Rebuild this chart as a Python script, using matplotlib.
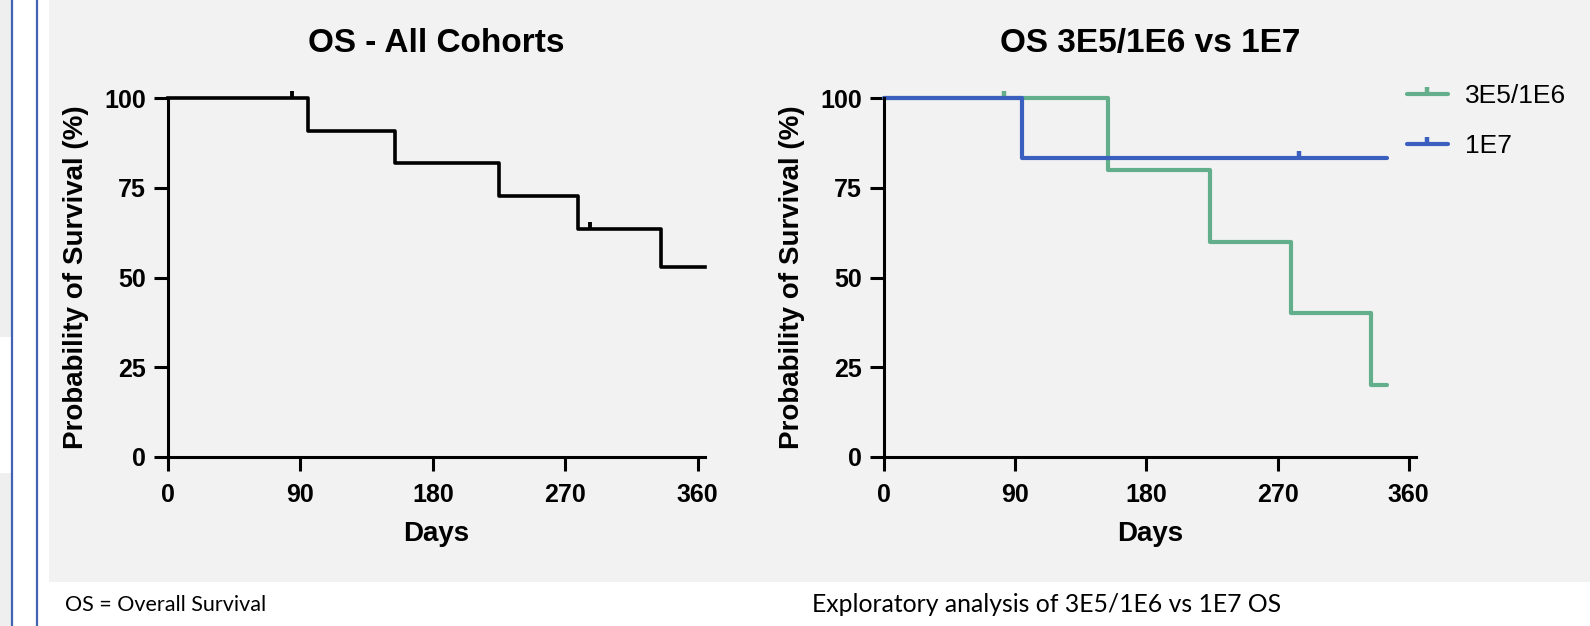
import matplotlib
matplotlib.use("Agg")
import matplotlib.pyplot as plt
from matplotlib.lines import Line2D
from matplotlib.patches import Rectangle

# ---- data ----
days_ticks = [0, 90, 180, 270, 360]
surv_ticks = [0, 25, 50, 75, 100]

# all cohorts: step times (days) and survival (%) after each step
all_t = [0, 95, 154, 225, 279, 335, 365]
all_s = [100, 90.9, 81.8, 72.7, 63.6, 53.0, 53.0]
all_cens_t = [84, 287]
all_cens_s = [100, 63.6]

low_t = [0, 154, 224, 279, 334, 345]
low_s = [100, 80, 60, 40, 20, 20]
low_cens_t = [82]
low_cens_s = [100]

high_t = [0, 95, 345]
high_s = [100, 83.3, 83.3]
high_cens_t = [285]
high_cens_s = [83.3]

GREEN = "#63ae8b"
BLUE = "#3a5fbe"
PANEL = "#f2f2f2"
EDGE = "#4163b1"

plt.rcParams["font.family"] = ["Liberation Sans", "DejaVu Sans"]

W, H = 1590, 626
fig = plt.figure(figsize=(W / 100, H / 100), dpi=100)
fig.patch.set_facecolor("white")


def rect(x0, y0, x1, y1, **kw):
    # pixel box (top-down y) -> figure fraction
    fig.patches.append(Rectangle((x0 / W, 1 - y1 / H), (x1 - x0) / W, (y1 - y0) / H,
                                 transform=fig.transFigure, zorder=-10, **kw))


# slide background bits
rect(0, 0, 11, 337, facecolor="#efefef", lw=0)
rect(0, 473, 11, H, facecolor="#efefef", lw=0)
rect(49, 0, W, 582, facecolor=PANEL, lw=0)
for xl in (12, 37):
    fig.lines.append(Line2D([xl / W, xl / W], [0, 1], transform=fig.transFigure,
                            color=EDGE, lw=1.6, zorder=-5))


def make_ax(x0, x1, y0=98, y1=457):
    ax = fig.add_axes([x0 / W, 1 - y1 / H, (x1 - x0) / W, (y1 - y0) / H])
    ax.set_facecolor("none")
    for s in ("top", "right"):
        ax.spines[s].set_visible(False)
    for s in ("left", "bottom"):
        ax.spines[s].set_linewidth(2.2)
    ax.set_xlim(0, 365)
    ax.set_ylim(0, 100)
    ax.set_xticks(days_ticks)
    ax.set_yticks(surv_ticks)
    ax.tick_params(length=10, width=2.2, labelsize=18, pad=6)
    ax.tick_params(axis="x", pad=9)
    for lab in ax.get_xticklabels() + ax.get_yticklabels():
        lab.set_fontweight("bold")
    ax.set_xlabel("Days", fontsize=20, fontweight="bold", va="center")
    ax.xaxis.set_label_coords(0.5, -77 / 359)
    ax.set_ylabel("Probability of Survival (%)", fontsize=20, fontweight="bold", va="center")
    ax.yaxis.set_label_coords(-92 / (x1 - x0), 0.5)
    return ax


# left: all cohorts
ax1 = make_ax(168, 705)
ax1.step(all_t, all_s, where="post", color="black", lw=2.6, clip_on=False)
ax1.plot(all_cens_t, all_cens_s, ls="none", marker=2, ms=5, mew=2.8, color="black", clip_on=False)
ax1.set_title("OS - All Cohorts", fontsize=24, fontweight="bold", pad=33)

# right: dose comparison
ax2 = make_ax(884, 1416)
ax2.step(low_t, low_s, where="post", color=GREEN, lw=3, clip_on=False, solid_capstyle="round")
ax2.plot(low_cens_t, low_cens_s, ls="none", marker=2, ms=5, mew=3.2, color=GREEN, clip_on=False)
ax2.step(high_t, high_s, where="post", color=BLUE, lw=3, clip_on=False, solid_capstyle="round")
ax2.plot(high_cens_t, high_cens_s, ls="none", marker=2, ms=5, mew=3.2, color=BLUE, clip_on=False)
ax2.set_title("OS 3E5/1E6 vs 1E7", fontsize=24, fontweight="bold", pad=33)

handles = [
    Line2D([], [], color=GREEN, lw=3, marker=2, ms=5, mew=3.2, solid_capstyle="round"),
    Line2D([], [], color=BLUE, lw=3, marker=2, ms=5, mew=3.2, solid_capstyle="round"),
]
fig.legend(handles, ["3E5/1E6", "1E7"], loc="upper left",
           bbox_to_anchor=(1407 / W, 1 - 84 / H), frameon=False, fontsize=19,
           handlelength=1.55, handletextpad=0.65, labelspacing=1.0,
           borderpad=0, borderaxespad=0)

# footnotes
fig.text(65 / W, 1 - 605 / H, "OS = Overall Survival", fontsize=15.5,
         family=["Lato", "DejaVu Sans"], va="center", ha="left")
fig.text(812 / W, 1 - 605 / H, "Exploratory analysis of 3E5/1E6 vs 1E7 OS", fontsize=17.8,
         family=["Lato", "DejaVu Sans"], va="center", ha="left")

fig.savefig("out.png", dpi=100, facecolor=fig.get_facecolor())
